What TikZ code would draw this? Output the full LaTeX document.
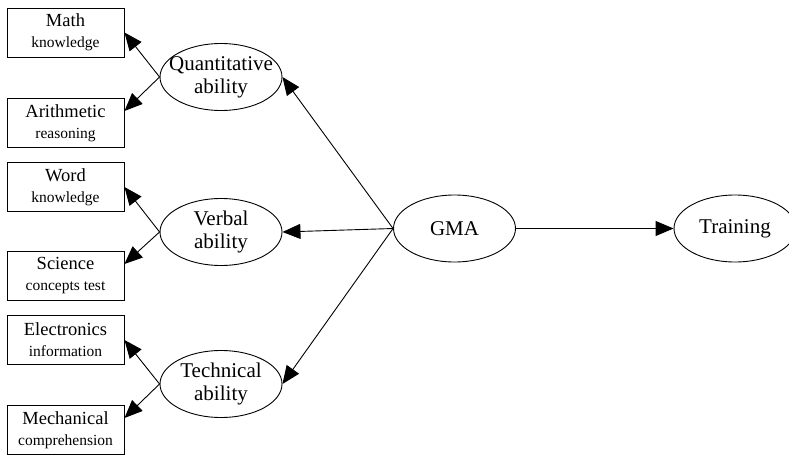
\documentclass[tikz,border=0pt]{standalone}
\usepackage{fontspec}
\setmainfont{Liberation Serif}
\usetikzlibrary{shapes, arrows.meta, positioning}

% two-line label of an observed test: name, then a smaller second line
\newcommand{\testlabel}[2]{{\fontsize{18.5}{21}\selectfont #1}\\{\fontsize{15.5}{19}\selectfont #2}}

\begin{document}
\begin{tikzpicture}[
  x=1pt, y=-1pt,
  every node/.style={align=center},
  factor/.style={ellipse, draw, line width=0.9pt, minimum width=122pt, minimum height=67pt, inner xsep=-10pt, inner ysep=0pt, font=\fontsize{21}{23}\selectfont},
  test/.style={rectangle, draw, line width=0.9pt, minimum width=117pt, minimum height=49pt, inner sep=0pt, font=\fontsize{18.5}{21}\selectfont},
  loading/.style={draw, line width=0.9pt, -{Triangle[length=18pt, width=15pt]}}
]
\useasboundingbox (0,0) rectangle (789,455);

% latent factors
\node[factor] (gma) at (454.5,228.5) {GMA};
\node[factor] (training) at (735,228.5) {Training};
\node[factor] (quant) at (221,77) {Quantitative\\ability};
\node[factor] (verbal) at (221,232) {Verbal\\ability};
\node[factor] (tech) at (221,384) {Technical\\ability};

% observed tests
\node[test] (math) at (65.5,32.5) {\testlabel{Math}{knowledge}};
\node[test] (arith) at (65.5,123) {\testlabel{Arithmetic}{reasoning}};
\node[test] (word) at (65.5,187) {\testlabel{Word}{knowledge}};
\node[test] (science) at (65.5,276) {\testlabel{Science}{concepts test}};
\node[test] (elec) at (65.5,340) {\testlabel{Electronics}{information}};
\node[test] (mech) at (65.5,430) {\testlabel{Mechanical}{comprehension}};

% GMA paths
\draw[loading] (gma.east) -- (training.west);
\draw[loading] (gma.west) -- (quant.east);
\draw[loading] (gma.west) -- (verbal.east);
\draw[loading] (gma.west) -- (tech.east);

% factor loadings
\draw[loading] (quant.west) -- (math.east);
\draw[loading] (quant.west) -- ([yshift=12pt]arith.east);
\draw[loading] (verbal.west) -- (word.east);
\draw[loading] (verbal.west) -- ([yshift=12pt]science.east);
\draw[loading] (tech.west) -- (elec.east);
\draw[loading] (tech.west) -- ([yshift=12pt]mech.east);

\end{tikzpicture}
\end{document}
